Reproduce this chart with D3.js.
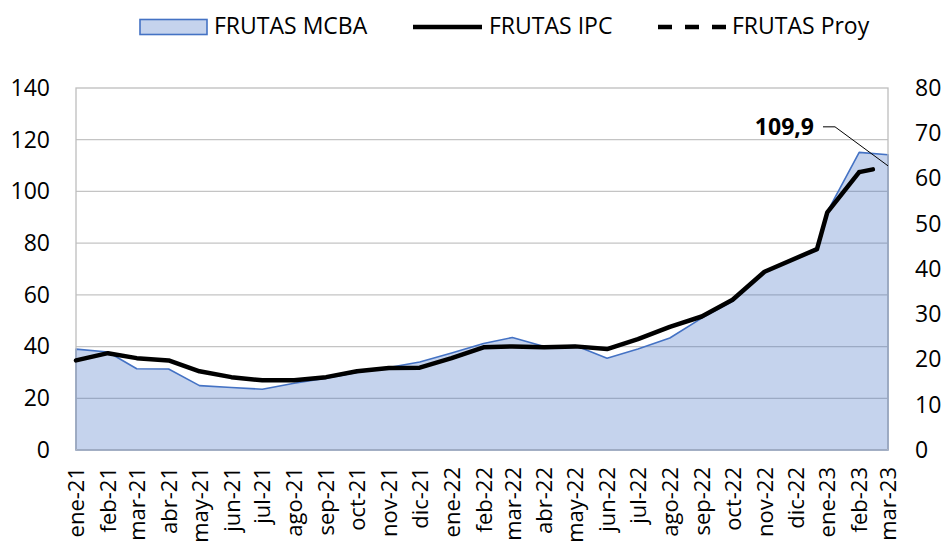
<!DOCTYPE html>
<html>
<head>
<meta charset="utf-8">
<script src="https://cdn.jsdelivr.net/npm/d3@7"></script>
<style>
  html, body { margin: 0; padding: 0; background: #fff; }
  svg { display: block; font-family: "Open Sans", sans-serif; }
  .tick text { fill: #000; }
</style>
</head>
<body>
<div id="chart"></div>
<script>
// ===== Data =====
const monthLabels = ["ene-21","feb-21","mar-21","abr-21","may-21","jun-21","jul-21","ago-21","sep-21","oct-21","nov-21","dic-21",
  "ene-22","feb-22","mar-22","abr-22","may-22","jun-22","jul-22","ago-22","sep-22","oct-22","nov-22","dic-22",
  "ene-23","feb-23","mar-23"];

// fechas de cada punto (eje de fechas, dic-22 cargado el 22)
const pointDates = ["2021-01-01","2021-02-01","2021-03-01","2021-04-01","2021-05-01","2021-06-01","2021-07-01","2021-08-01",
  "2021-09-01","2021-10-01","2021-11-01","2021-12-01","2022-01-01","2022-02-01","2022-03-01","2022-04-01","2022-05-01",
  "2022-06-01","2022-07-01","2022-08-01","2022-09-01","2022-10-01","2022-11-01","2022-12-22","2023-01-01","2023-02-01",
  "2023-03-01"];

// eje izquierdo
const mcba = [39.0, 37.9, 31.4, 31.3, 24.9, 24.2, 23.5, 25.8, 27.8, 30.0, 31.9, 34.0,
  37.5, 41.2, 43.5, 40.0, 40.4, 35.5, 39.1, 43.3, 51.0, 57.5, 68.8, 77.7,
  92.1, 115.1, 114.2];

// eje derecho
const ipc = [19.8, 21.4, 20.3, 19.8, 17.4, 16.1, 15.4, 15.4, 16.1, 17.4, 18.1, 18.2,
  20.3, 22.7, 22.9, 22.7, 22.9, 22.3, 24.5, 27.2, 29.5, 33.2, 39.4, 44.4,
  52.5, 61.4];

const proyDates = ["2023-02-01", "2023-03-01"];
const proy = [61.4, 62.7];

const leftTicks = [0, 20, 40, 60, 80, 100, 120, 140];
const rightTicks = [0, 10, 20, 30, 40, 50, 60, 70, 80];

const noteLabel = "109,9";
const noteValue = 109.9;
const noteDate = "2023-03-01";

// ===== Config =====
const W = 943;
const H = 545;
const M = { top: 88, right: 55, bottom: 95, left: 76 };
const innerW = W - M.left - M.right;
const innerH = H - M.top - M.bottom;
const FONT = "'Open Sans', sans-serif";

const parse = d3.timeParse("%Y-%m-%d");

const svg = d3.select("#chart").append("svg")
  .attr("width", W)
  .attr("height", H);

const g = svg.append("g").attr("transform", `translate(${M.left},${M.top})`);

const x = d3.scaleTime()
  .domain([parse("2021-01-01"), parse("2023-03-01")])
  .range([0, innerW]);

const yL = d3.scaleLinear().domain([0, 140]).range([innerH, 0]);
const yR = d3.scaleLinear().domain([0, 80]).range([innerH, 0]);

// gridlines
g.append("g")
  .selectAll("line")
  .data(leftTicks.slice(1, -1))
  .enter()
  .append("line")
  .attr("x1", 0).attr("x2", innerW)
  .attr("y1", d => yL(d)).attr("y2", d => yL(d))
  .attr("stroke", "#c4c4c4")
  .attr("stroke-width", 1.3);

// area MCBA
const mcbaData = mcba.map((v, i) => ({ date: parse(pointDates[i]), v }));
g.append("path")
  .datum(mcbaData)
  .attr("d", d3.area().x(d => x(d.date)).y0(yL(0)).y1(d => yL(d.v)))
  .attr("fill", "#4472c4")
  .attr("fill-opacity", 0.31)
  .attr("stroke", "#4472c4")
  .attr("stroke-width", 1.6)
  .attr("stroke-linejoin", "round");

// plot border
g.append("rect")
  .attr("x", 0).attr("y", 0)
  .attr("width", innerW).attr("height", innerH)
  .attr("fill", "none")
  .attr("stroke", "#bdbdbd")
  .attr("stroke-width", 1.3);

// IPC line
const ipcData = ipc.map((v, i) => ({ date: parse(pointDates[i]), v }));
const lineR = d3.line().x(d => x(d.date)).y(d => yR(d.v));
g.append("path")
  .datum(ipcData)
  .attr("d", lineR)
  .attr("fill", "none")
  .attr("stroke", "#000")
  .attr("stroke-width", 4.5)
  .attr("stroke-linejoin", "round")
  .attr("stroke-linecap", "round");

// Proy (dashed)
const proyData = proy.map((v, i) => ({ date: parse(proyDates[i]), v }));
g.append("path")
  .datum(proyData)
  .attr("d", lineR)
  .attr("fill", "none")
  .attr("stroke", "#000")
  .attr("stroke-width", 4.5)
  .attr("stroke-dasharray", "14,30")
  .attr("stroke-linecap", "round");

// axes
const axL = g.append("g")
  .call(d3.axisLeft(yL).tickValues(leftTicks).tickSize(0).tickPadding(26))
  .attr("font-family", FONT);
axL.select(".domain").remove();
axL.selectAll("text").style("font-size", "23px");

const axR = g.append("g")
  .attr("transform", `translate(${innerW},0)`)
  .call(d3.axisRight(yR).tickValues(rightTicks).tickSize(0).tickPadding(27))
  .attr("font-family", FONT);
axR.select(".domain").remove();
axR.selectAll("text").style("font-size", "23px");

const tickDates = monthLabels.map((_, i) => d3.timeMonth.offset(parse("2021-01-01"), i));
const axB = g.append("g")
  .attr("transform", `translate(0,${innerH})`)
  .call(d3.axisBottom(x).tickValues(tickDates).tickSize(0)
    .tickFormat((d, i) => monthLabels[i]))
  .attr("font-family", FONT);
axB.select(".domain").remove();
axB.selectAll("text")
  .style("font-size", "22px")
  .attr("transform", "rotate(-90)")
  .attr("x", -17)
  .attr("y", 0)
  .attr("dy", "0.35em")
  .style("text-anchor", "end");

// annotation 109,9
const nx = x(parse(noteDate));
const ny = yL(noteValue);
g.append("polyline")
  .attr("points", `${nx - 65},${ny - 39} ${nx - 53},${ny - 39} ${nx},${ny}`)
  .attr("fill", "none")
  .attr("stroke", "#000")
  .attr("stroke-width", 1);
g.append("text")
  .attr("x", nx - 74)
  .attr("y", ny - 39)
  .attr("dy", "0.35em")
  .style("text-anchor", "end")
  .style("font-size", "23px")
  .style("font-weight", "bold")
  .text(noteLabel);

// legend
const legend = svg.append("g");
legend.append("rect")
  .attr("x", 140).attr("y", 19.5)
  .attr("width", 67).attr("height", 15)
  .attr("fill", "#4472c4").attr("fill-opacity", 0.31)
  .attr("stroke", "#4472c4").attr("stroke-width", 1.6);
legend.append("text")
  .attr("x", 214).attr("y", 34)
  .style("font-size", "23px")
  .text("FRUTAS MCBA");

legend.append("line")
  .attr("x1", 413).attr("x2", 482)
  .attr("y1", 27).attr("y2", 27)
  .attr("stroke", "#000").attr("stroke-width", 4.5);
legend.append("text")
  .attr("x", 489).attr("y", 34)
  .style("font-size", "23px")
  .text("FRUTAS IPC");

legend.append("line")
  .attr("x1", 658).attr("x2", 726)
  .attr("y1", 27).attr("y2", 27)
  .attr("stroke", "#000").attr("stroke-width", 4.5)
  .attr("stroke-dasharray", "14,13");
legend.append("text")
  .attr("x", 732).attr("y", 34)
  .style("font-size", "23px")
  .text("FRUTAS Proy");
</script>
</body>
</html>
